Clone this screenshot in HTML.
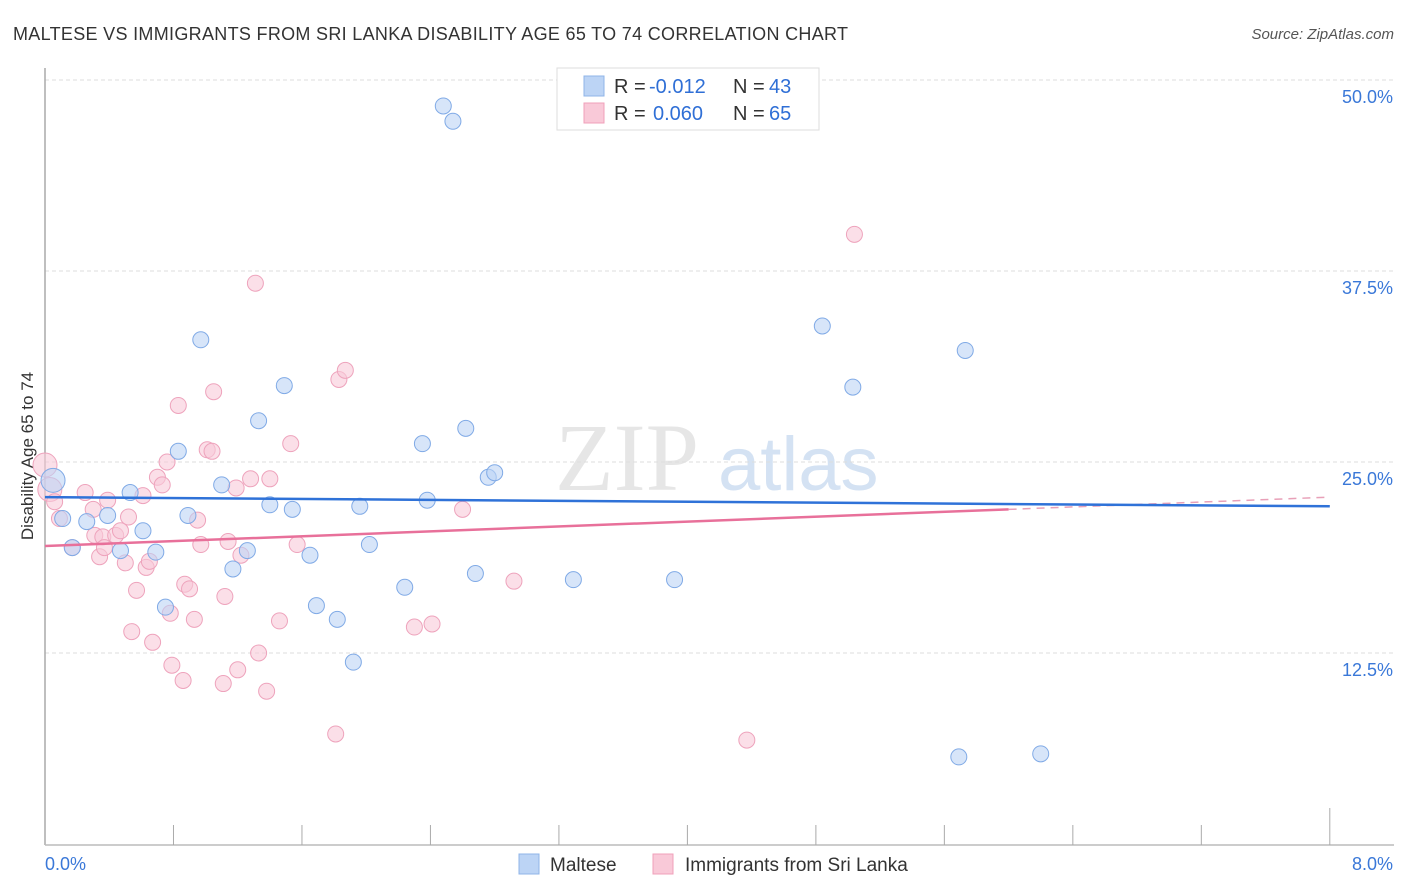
<!DOCTYPE html>
<html><head><meta charset="utf-8"><style>
body{margin:0;background:#fff;font-family:"Liberation Sans",sans-serif}
svg{display:block}
</style></head><body>
<svg id="c" width="1406" height="892">
<text x="13" y="40" font-size="18" fill="#333" textLength="835">MALTESE VS IMMIGRANTS FROM SRI LANKA DISABILITY AGE 65 TO 74 CORRELATION CHART</text>
<text x="1394" y="39" font-size="15" fill="#555" text-anchor="end" font-style="italic">Source: ZipAtlas.com</text>
<text x="0" y="0" transform="translate(33,456) rotate(-90)" font-size="17" fill="#333" text-anchor="middle">Disability Age 65 to 74</text>
<g><text x="555" y="490" font-size="96" fill="#e6e6e6" font-family="Liberation Serif,serif">ZIP</text><text x="718" y="490" font-size="76" fill="#d4e2f3">atlas</text></g>
<g id="grid"></g><g id="axes"></g><g id="pts"></g><g id="trend"></g>
<g>
<rect x="557" y="68" width="262" height="62" fill="#fff" stroke="#ddd"/>
<rect x="584" y="76" width="20" height="20" fill="#bcd4f5" stroke="#8fb4e8"/>
<rect x="584" y="103" width="20" height="20" fill="#f9c9d8" stroke="#f0a0ba"/>
<text x="614" y="93" font-size="20" fill="#333">R =</text><text x="649" y="93" font-size="20" fill="#2f6fd6">-0.012</text>
<text x="733" y="93" font-size="20" fill="#333">N =</text><text x="769" y="93" font-size="20" fill="#2f6fd6">43</text>
<text x="614" y="120" font-size="20" fill="#333">R =</text><text x="653" y="120" font-size="20" fill="#2f6fd6">0.060</text>
<text x="733" y="120" font-size="20" fill="#333">N =</text><text x="769" y="120" font-size="20" fill="#2f6fd6">65</text>
</g>
<g>
<rect x="519" y="854" width="20" height="20" fill="#bcd4f5" stroke="#8fb4e8"/>
<text x="550" y="871" font-size="19" fill="#333">Maltese</text>
<rect x="653" y="854" width="20" height="20" fill="#f9c9d8" stroke="#f0a0ba"/>
<text x="685" y="871" font-size="19" fill="#333">Immigrants from Sri Lanka</text>
</g>
</svg>
<script>
const yTicks=[12.5,25,37.5,50];
const yTickLabels=["12.5%","25.0%","37.5%","50.0%"];
const xTickLabels=["0.0%","8.0%"];
const malteseX=[0.05,0.11,0.17,0.26,0.39,0.47,0.53,0.61,0.69,0.75,0.83,0.89,0.97,1.10,1.17,1.26,1.33,1.40,1.49,1.54,1.65,1.69,1.82,1.92,1.96,2.02,2.24,2.35,2.38,2.48,2.54,2.62,2.68,2.76,2.80,3.29,3.92,4.84,5.03,5.69,5.73,6.20];
const malteseY=[23.8,21.3,19.4,21.1,21.5,19.2,23.0,20.5,19.1,15.5,25.7,21.5,33.0,23.5,18.0,19.2,27.7,22.2,30.0,21.9,18.9,15.6,14.7,11.9,22.1,19.6,16.8,26.2,22.5,48.3,47.3,27.2,17.7,24.0,24.3,17.3,17.3,33.9,29.9,5.7,32.3,5.9];
const lankaX=[0.0,0.03,0.06,0.09,0.17,0.25,0.30,0.31,0.34,0.36,0.37,0.39,0.44,0.47,0.50,0.52,0.54,0.57,0.61,0.63,0.65,0.67,0.70,0.73,0.76,0.78,0.79,0.83,0.86,0.87,0.90,0.93,0.95,0.97,1.01,1.04,1.05,1.11,1.12,1.14,1.19,1.20,1.22,1.28,1.31,1.33,1.38,1.40,1.46,1.53,1.57,1.81,1.83,1.87,2.30,2.41,2.60,2.92,4.37,5.04];
const lankaY=[24.8,23.2,22.4,21.3,19.4,23.0,21.9,20.2,18.8,20.1,19.4,22.5,20.2,20.5,18.4,21.4,13.9,16.6,22.8,18.1,18.5,13.2,24.0,23.5,25.0,15.1,11.7,28.7,10.7,17.0,16.7,14.7,21.2,19.6,25.8,25.7,29.6,10.5,16.2,19.8,23.3,11.4,18.9,23.9,36.7,12.5,10.0,23.9,14.6,26.2,19.6,7.2,30.4,31.0,14.2,14.4,21.9,17.2,6.8,39.9];
const malteseTrend=[22.7,22.1];
const lankaTrend=[19.5,22.7];
const lankaSolidEnd=6.0;
const NS="http://www.w3.org/2000/svg";
const X=v=>45+v*160.6, Y=v=>80+(50-v)*15.28;
function mk(p,t,a){const e=document.createElementNS(NS,t);for(const k in a)e.setAttribute(k,a[k]);p.appendChild(e);return e;}
const grid=document.getElementById('grid'),axes=document.getElementById('axes'),pts=document.getElementById('pts'),tr=document.getElementById('trend');
yTicks.forEach((v,i)=>{
 const l=mk(grid,'line',{x1:45,x2:1394,y1:Y(v),y2:Y(v),stroke:'#ddd','stroke-dasharray':'4,3'});
 
 
 const t=mk(grid,'text',{x:1393,y:Y(v)+23,'font-size':18,fill:'#3a78d8','text-anchor':'end'});
 t.textContent=yTickLabels[i];
 
 
});
const ya=mk(axes,'line',{x1:45,x2:45,y1:68,y2:845,stroke:'#aaa','stroke-width':1.5});


const xa=mk(axes,'line',{x1:45,x2:1394,y1:845,y2:845,stroke:'#bbb','stroke-width':1.5});


for(let i=1;i<=10;i++){const v=i*0.8;const tk=mk(axes,'line',{x1:X(v),x2:X(v),y1:i==10?808:825,y2:845,stroke:'#aaa'});
 
 }
[[0,45,'start'],[8,1393,'end']].forEach((d,i)=>{const t=mk(axes,'text',{x:d[1],y:870,'font-size':18,fill:'#3a78d8','text-anchor':d[2]});t.textContent=xTickLabels[i];
 
 });
lankaX.forEach((x,i)=>{const big=i<2;const c=mk(pts,'circle',{cx:X(x),cy:Y(lankaY[i]),r:big?12:8,fill:'#f9c9d8','fill-opacity':0.6,stroke:'#eea3bc','stroke-width':1});
 
 });
malteseX.forEach((x,i)=>{const c=mk(pts,'circle',{cx:X(x),cy:Y(malteseY[i]),r:i==0?12:8,fill:'#bcd4f5','fill-opacity':0.6,stroke:'#80aae6','stroke-width':1});
 
 });
const ly=v=>lankaTrend[0]+(lankaTrend[1]-lankaTrend[0])*v/8;
const l1=mk(tr,'line',{x1:X(0),y1:Y(lankaTrend[0]),x2:X(lankaSolidEnd),y2:Y(ly(lankaSolidEnd)),stroke:'#e8709a','stroke-width':2.5});


const l2=mk(tr,'line',{x1:X(lankaSolidEnd),y1:Y(ly(lankaSolidEnd)),x2:X(8),y2:Y(lankaTrend[1]),stroke:'#e8a0b8','stroke-width':1.5,'stroke-dasharray':'8,6'});


const b=mk(tr,'line',{x1:X(0),y1:Y(malteseTrend[0]),x2:X(8),y2:Y(malteseTrend[1]),stroke:'#2f72d8','stroke-width':2.5});


</script>
</body></html>
